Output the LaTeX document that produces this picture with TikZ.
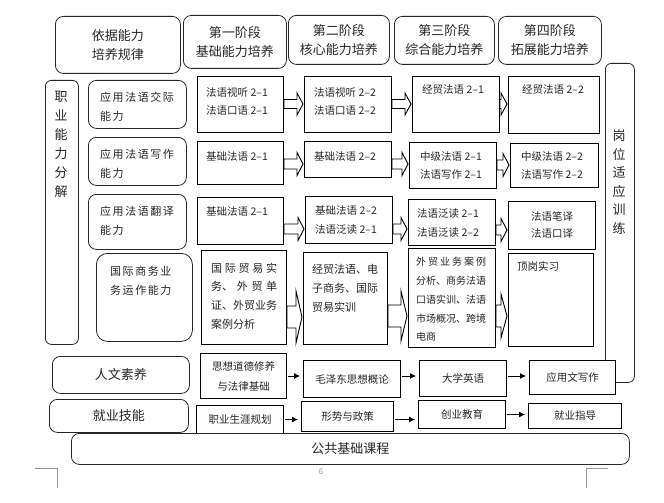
\documentclass[tikz,border=0pt]{standalone}
\usepackage{fontspec}
\setmainfont{Noto Sans CJK SC}
\newfontfamily\spaced{Noto Sans CJK SC}[LetterSpace=14]
\XeTeXlinebreaklocale "zh"
\XeTeXlinebreakskip = 0pt plus 4pt
\usetikzlibrary{
  calc,
  positioning,
  arrows.meta
}

\newcommand{\blockarrow}[5]{%
  \draw[hollow] let \p1=(#1.east), \p2=(#2.west), \p3=(0,#3) in
    (\x1,\y3+#4pt) -- (\x2-7pt,\y3+#4pt) -- (\x2-7pt,\y3+#5pt) -- (\x2-1pt,\y3)
    -- (\x2-7pt,\y3-#5pt) -- (\x2-7pt,\y3-#4pt) -- (\x1,\y3-#4pt) -- cycle;}

\begin{document}
\begin{tikzpicture}[x=1pt, y=-1pt,
    stage/.style={draw=black!85, line width=0.8pt, rounded corners=8pt, inner sep=0pt,
      anchor=north west, align=center, text=black!85, font=\fontsize{13}{19}\selectfont},
    course/.style={draw, line width=1pt, fill=white, inner sep=0pt, anchor=north west,
      align=center, text=black!85, font=\fontsize{10.5}{20}\selectfont},
    words/.style={inner sep=0pt, anchor=north west, align=left, text=black!85,
      font=\fontsize{10.5}{18}\selectfont},
    skill/.style={words, font=\spaced\fontsize{11}{19}\selectfont},
    para/.style={inner sep=0pt, anchor=north west, align=justify, text=black!85,
      font=\fontsize{11}{18.8}\selectfont},
    vert/.style={inner sep=0pt, anchor=north, align=center, text=black!85,
      font=\fontsize{13}{19}\selectfont},
    flow/.style={-{Latex[length=6pt,width=6pt]}, line width=0.8pt, shorten >=3pt, shorten <=1pt},
    hollow/.style={draw, line width=0.9pt},
    cropmark/.style={draw=black!40, line width=0.6pt}
  ]
    \useasboundingbox (0,0) rectangle (664,503);
    \fill[white] (0,0) rectangle (664,503);

    % header row
    \node[stage, minimum width=125pt, minimum height=57pt] (hd0) at (55,16) {依据能力\\培养规律};
    \node[stage, minimum width=103pt, minimum height=53pt] (hd1) at (183,15) {第一阶段\\基础能力培养};
    \node[stage, minimum width=101pt, minimum height=49pt] (hd2) at (288,15) {第二阶段\\核心能力培养};
    \node[stage, minimum width=100pt, minimum height=48pt] (hd3) at (394,16) {第三阶段\\综合能力培养};
    \node[stage, minimum width=103pt, minimum height=48pt] (hd4) at (498,16) {第四阶段\\拓展能力培养};

    % side columns
    \node[stage, rounded corners=6pt, minimum width=33pt, minimum height=264pt] (split) at (45,80) {};
    \node[vert] (splitt) at (61,90.5) {职\\业\\能\\力\\分\\解};
    \node[stage, rounded corners=6pt, minimum width=29pt, minimum height=319pt] (post) at (605,63) {};
    \node[vert, font=\fontsize{13}{18.5}\selectfont] (postt) at (619,129.5) {岗\\位\\适\\应\\训\\练};

    % abilities
    \node[stage, minimum width=98pt, minimum height=48pt] (ab1) at (88,80) {};
    \node[stage, minimum width=98pt, minimum height=48pt] (ab2) at (88,137) {};
    \node[stage, minimum width=98pt, minimum height=55pt] (ab3) at (88,194) {};
    \node[stage, rounded corners=11pt, minimum width=96pt, minimum height=88pt] (ab4) at (96,253) {};
    \node[skill] (ab1t) at (100,91.5) {应用法语交际\\能力};
    \node[skill] (ab2t) at (100,148.5) {应用法语写作\\能力};
    \node[skill] (ab3t) at (100,205.5) {应用法语翻译\\能力};
    \node[skill] (ab4t) at (110,266.5) {国际商务业\\务运作能力};

    % courses, row 1
    \node[course, minimum width=86pt, minimum height=56pt] (r1c1) at (197,76) {};
    \node[course, minimum width=87pt, minimum height=56pt] (r1c2) at (304,76) {};
    \node[course, minimum width=87pt, minimum height=56pt] (r1c3) at (412,76) {};
    \node[course, minimum width=91pt, minimum height=57pt] (r1c4) at (508,76) {};
    \node[words] (r1c1t) at (206,87.75) {法语视听 2–1\\法语口语 2–1};
    \node[words] (r1c2t) at (314,87.75) {法语视听 2–2\\法语口语 2–2};
    \node[words] (r1c3t) at (422,84.75) {经贸法语 2–1};
    \node[words] (r1c4t) at (522,84.75) {经贸法语 2–2};

    % row 2
    \node[course, minimum width=86pt, minimum height=43pt] (r2c1) at (197,141) {};
    \node[course, minimum width=87pt, minimum height=36pt] (r2c2) at (304,141) {};
    \node[course, minimum width=87pt, minimum height=46pt] (r2c3) at (409,142) {};
    \node[course, minimum width=88pt, minimum height=44pt] (r2c4) at (510,143) {};
    \node[words] (r2c1t) at (206,151.75) {基础法语 2–1};
    \node[words] (r2c2t) at (314,151.75) {基础法语 2–2};
    \node[words] (r2c3t) at (420,151.75) {中级法语 2–1\\法语写作 2–1};
    \node[words] (r2c4t) at (521,151.75) {中级法语 2–2\\法语写作 2–2};

    % row 3
    \node[course, minimum width=86pt, minimum height=47pt] (r3c1) at (197,197) {};
    \node[course, minimum width=87pt, minimum height=47pt] (r3c2) at (305,196) {};
    \node[course, minimum width=87pt, minimum height=46pt] (r3c3) at (408,199) {};
    \node[course, minimum width=87pt, minimum height=48pt] (r3c4) at (508,201) {};
    \node[words] (r3c1t) at (206,206.75) {基础法语 2–1};
    \node[words, font=\fontsize{10.5}{18.5}\selectfont] (r3c2t) at (315,205.75) {基础法语 2–2\\法语泛读 2–1};
    \node[words, font=\fontsize{10.5}{18.5}\selectfont] (r3c3t) at (417,208.75) {法语泛读 2–1\\法语泛读 2–2};
    \node[words, anchor=center, align=center, font=\fontsize{10.5}{17}\selectfont] (r3c4t) at (552,224.5) {法语笔译\\法语口译};

    % row 4
    \node[course, minimum width=85pt, minimum height=94pt] (r4c1) at (201,250) {};
    \node[course, minimum width=84pt, minimum height=92pt] (r4c2) at (303,252) {};
    \node[course, minimum width=87pt, minimum height=99pt] (r4c3) at (408,248) {};
    \node[course, minimum width=85pt, minimum height=93pt] (r4c4) at (508,253) {};
    \node[para, text width=66pt] (r4c1t) at (211,262.5)
      {国际贸易实\linebreak 务、外贸单\linebreak 证、外贸业务\linebreak 案例分析};
    \node[para, text width=66pt] (r4c2t) at (312,264.5)
      {经贸法语、电\linebreak 子商务、国际\linebreak 贸易实训};
    \node[para, text width=70pt, font=\fontsize{10}{18.8}\selectfont] (r4c3t) at (416,257)
      {外贸业务案例\linebreak 分析、商务法语\linebreak 口语实训、法语\linebreak 市场概况、跨境\linebreak 电商};
    \node[words] (r4c4t) at (517,261.75) {顶岗实习};

    % stage arrows
    \blockarrow{r1c1}{r1c2}{104}{4.5}{11}
    \blockarrow{r1c2}{r1c3}{104}{4.5}{11}
    \blockarrow{r1c3}{r1c4}{104}{4.5}{11}
    \blockarrow{r2c1}{r2c2}{164}{5}{11.5}
    \blockarrow{r2c2}{r2c3}{164}{5}{11.5}
    \blockarrow{r2c3}{r2c4}{165}{5}{11.5}
    \blockarrow{r3c1}{r3c2}{229}{5}{11.5}
    \blockarrow{r3c2}{r3c3}{229}{5}{11.5}
    \blockarrow{r3c3}{r3c4}{230}{5}{11.5}
    \blockarrow{r4c1}{r4c2}{317}{11}{26}
    \blockarrow{r4c2}{r4c3}{316}{11}{25}
    \blockarrow{r4c3}{r4c4}{316}{11}{22}

    % general courses
    \node[stage, minimum width=137pt, minimum height=37pt] (hum) at (52,356) {人文素养};
    \node[course, minimum width=86pt, minimum height=45pt] (r5c1) at (200,353) {思想道德修养\\与法律基础};
    \node[course, minimum width=97pt, minimum height=37pt] (r5c2) at (303,360) {毛泽东思想概论};
    \node[course, minimum width=87pt, minimum height=36pt] (r5c3) at (419,360) {大学英语};
    \node[course, minimum width=86pt, minimum height=34pt] (r5c4) at (529,360) {应用文写作};

    \node[stage, minimum width=139pt, minimum height=33pt] (job) at (49,399) {就业技能};
    \node[course, minimum width=87pt, minimum height=28pt] (r6c1) at (196,405) {职业生涯规划};
    \node[course, minimum width=92pt, minimum height=30pt] (r6c2) at (301,401) {形势与政策};
    \node[course, minimum width=87pt, minimum height=28pt] (r6c3) at (418,400) {创业教育};
    \node[course, minimum width=93pt, minimum height=25pt] (r6c4) at (528,403) {就业指导};

    \draw[flow] (r5c1.east) -- (r5c1.east -| r5c2.west);
    \draw[flow] (r5c2.east |- r5c1.east) -- (r5c1.east -| r5c3.west);
    \draw[flow] (r5c3.east |- r5c1.east) -- (r5c1.east -| r5c4.west);
    \draw[flow] (r6c1.east) -- (r6c1.east -| r6c2.west);
    \draw[flow] (r6c2.east |- r6c1.east) -- (r6c1.east -| r6c3.west);
    \draw[flow] (r6c3.east) -- (r6c3.east -| r6c4.west);

    \node[stage, minimum width=558pt, minimum height=31pt] (base) at (71,433) {公共基础课程};

    % page corners
    \draw[cropmark] (35,468) -- (57,468) -- (57,488);
    \draw[cropmark] (608,468) -- (586,468) -- (586,488);
    \node[text=black!40, font=\fontsize{8}{8}\selectfont, inner sep=0pt] (pagenum) at (321,472) {6};
  \end{tikzpicture}
\end{document}
